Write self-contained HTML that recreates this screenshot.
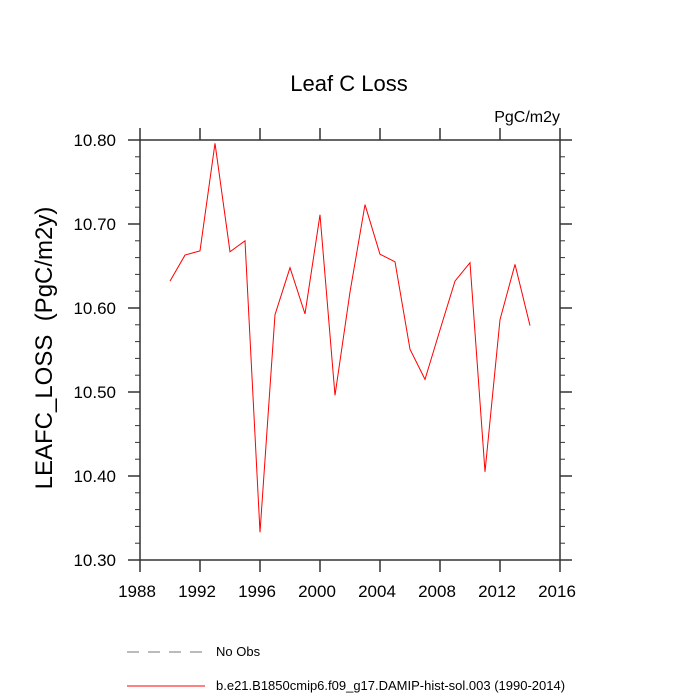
<!DOCTYPE html>
<html><head><meta charset="utf-8"><style>body{margin:0;background:#fff}svg{display:block}text{font-family:"Liberation Sans",sans-serif;fill:#000}</style></head>
<body>
<svg id="c" width="700" height="700" viewBox="0 0 700 700">
<text x="349" y="91" font-size="22" text-anchor="middle">Leaf C Loss</text>
<text x="560" y="122" font-size="16" text-anchor="end">PgC/m2y</text>
<text transform="translate(52,348) rotate(-90)" font-size="24" text-anchor="middle" xml:space="preserve">LEAFC_LOSS  (PgC/m2y)</text>
<g id="ax"></g>
<rect x="140" y="140" width="420" height="420" fill="none" stroke="#333" stroke-width="1.5"/>
<polyline id="ln" fill="none" stroke="#f00" stroke-width="1"/>
<line x1="127" y1="652" x2="205" y2="652" stroke="#777" stroke-dasharray="12,9" stroke-width="1"/>
<text x="216" y="656" font-size="13">No Obs</text>
<line x1="127" y1="686" x2="205" y2="686" stroke="#f00" stroke-width="1"/>
<text x="216" y="690" font-size="13">b.e21.B1850cmip6.f09_g17.DAMIP-hist-sol.003 (1990-2014)</text>
</svg>
<script>
const years=[1990,1991,1992,1993,1994,1995,1996,1997,1998,1999,2000,2001,2002,2003,2004,2005,2006,2007,2008,2009,2010,2011,2012,2013,2014];
const values=[10.632,10.663,10.668,10.796,10.667,10.680,10.333,10.592,10.648,10.593,10.711,10.496,10.619,10.723,10.664,10.655,10.551,10.515,10.574,10.632,10.654,10.405,10.586,10.652,10.579];
const xTicks=[1988,1992,1996,2000,2004,2008,2012,2016];
const yTicks=["10.30","10.40","10.50","10.60","10.70","10.80"];
const X=v=>140+(v-1988)/28*420, Y=v=>560-(v-10.3)/0.5*420;
const ns="http://www.w3.org/2000/svg", ax=document.getElementById('ax');
function mk(t,a){const e=document.createElementNS(ns,t);for(const k in a)e.setAttribute(k,a[k]);ax.appendChild(e);return e;}
xTicks.forEach(t=>{const x=X(t);
 let l=mk('line',{x1:x,x2:x,y1:560,y2:572,stroke:'#333','stroke-width':1.5});
 
 
 l=mk('line',{x1:x,x2:x,y1:140,y2:128,stroke:'#333','stroke-width':1.5});
 
 
 const s=mk('text',{x:x-3,y:597,'font-size':17,'text-anchor':'middle'});s.textContent=t;
 
 });
for(let i=0;i<=25;i++){const v=10.3+i*0.02,y=Y(v),maj=i%5==0,L=maj?12:5;
 let l=mk('line',{x1:140-L,x2:140,y1:y,y2:y,stroke:'#333','stroke-width':maj?1.5:1});
 
 
 l=mk('line',{x1:560,x2:560+L,y1:y,y2:y,stroke:'#333','stroke-width':maj?1.5:1});
 
 }
yTicks.forEach(t=>{const s=mk('text',{x:116,y:Y(+t)+6,'font-size':17,'text-anchor':'end'});s.textContent=t;
 
 });
document.getElementById('ln').setAttribute('points',years.map((y,i)=>X(y)+','+Y(values[i])).join(' '));
</script>
</body></html>
